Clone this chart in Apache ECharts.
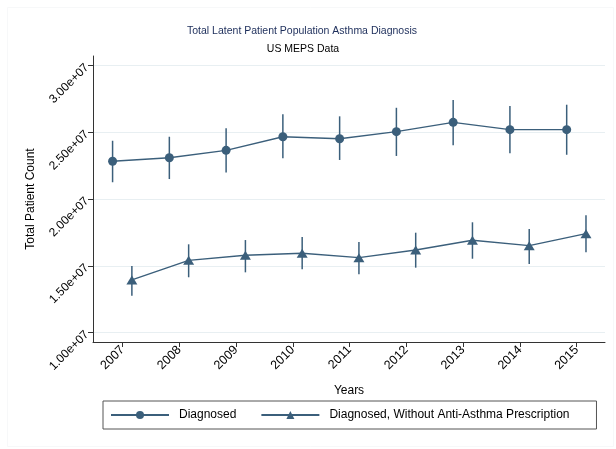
<!DOCTYPE html>
<html>
<head>
<meta charset="utf-8">
<script src="https://cdn.jsdelivr.net/npm/echarts@6/dist/echarts.min.js"></script>
<style>
  html, body { margin: 0; padding: 0; background: #fff; }
  #chart { width: 616px; height: 449px; }
</style>
</head>
<body>
<div id="chart"></div>
<script>
// Survey years
const years = [2007, 2008, 2009, 2010, 2011, 2012, 2013, 2014, 2015];

// Diagnosed: point estimate and 95% interval
const diagnosed      = [2.284e7, 2.311e7, 2.366e7, 2.468e7, 2.453e7, 2.506e7, 2.576e7, 2.521e7, 2.521e7];
const diagnosedLow   = [2.127e7, 2.151e7, 2.201e7, 2.306e7, 2.294e7, 2.324e7, 2.404e7, 2.344e7, 2.333e7];
const diagnosedHigh  = [2.438e7, 2.468e7, 2.531e7, 2.636e7, 2.621e7, 2.685e7, 2.743e7, 2.698e7, 2.708e7];

// Diagnosed, no anti-asthma prescription: point estimate and 95% interval
const noRx      = [1.395e7, 1.542e7, 1.580e7, 1.595e7, 1.562e7, 1.619e7, 1.692e7, 1.652e7, 1.742e7];
const noRxLow   = [1.277e7, 1.415e7, 1.452e7, 1.475e7, 1.437e7, 1.487e7, 1.554e7, 1.515e7, 1.602e7];
const noRxHigh  = [1.500e7, 1.662e7, 1.694e7, 1.717e7, 1.679e7, 1.749e7, 1.827e7, 1.777e7, 1.879e7];

// Y tick values
const yTicks = [1.0e7, 1.5e7, 2.0e7, 2.5e7, 3.0e7];

const seriesNames = ['Diagnosed', 'Diagnosed, Without Anti-Asthma Prescription'];

// horizontal dodge so the two groups sit side by side around each year
const dodgeA = -0.175;
const dodgeB = 0.165;

const color = '#3b5f7b';
const font = 'Liberation Sans, Arial, Helvetica, sans-serif';

function pts(vals, dodge) {
  return vals.map((v, i) => [years[i] + dodge, v]);
}
function bars(lo, hi, dodge) {
  return lo.map((v, i) => [years[i] + dodge, v, hi[i]]);
}
function errRender(params, api) {
  const p1 = api.coord([api.value(0), api.value(1)]);
  const p2 = api.coord([api.value(0), api.value(2)]);
  return {
    type: 'line',
    shape: { x1: p1[0], y1: p1[1], x2: p2[0], y2: p2[1] },
    style: { stroke: color, lineWidth: 1.5 }
  };
}

const chart = echarts.init(document.getElementById('chart'), null, { renderer: 'canvas' });

chart.setOption({
  backgroundColor: '#fff',
  animation: false,
  title: [
    {
      text: 'Total Latent Patient Population Asthma Diagnosis',
      left: 297, top: 21, textAlign: 'center',
      textStyle: { fontFamily: font, fontSize: 10.5, fontWeight: 'normal', color: '#1c2d5a' }
    },
    {
      text: 'US MEPS Data',
      left: 298, top: 39, textAlign: 'center',
      textStyle: { fontFamily: font, fontSize: 10.5, fontWeight: 'normal', color: '#000' }
    }
  ],
  graphic: [{
    type: 'rect', left: 5, top: 5,
    shape: { width: 606, height: 439 },
    style: { fill: 'none', stroke: '#f7f8f9', lineWidth: 1 },
    silent: true, z: -1
  }],
  grid: { left: 93, right: 11, top: 56, bottom: 107, containLabel: false },
  xAxis: {
    type: 'value',
    min: 2006.48, max: 2015.5,
    name: 'Years', nameLocation: 'middle', nameGap: 43,
    nameTextStyle: { fontFamily: font, fontSize: 12, color: '#000' },
    axisLine: { show: true, lineStyle: { color: '#333', width: 1 } },
    axisTick: { show: true, length: 5, customValues: years, lineStyle: { color: '#333' } },
    axisLabel: {
      customValues: years, rotate: 45, margin: 6,
      fontFamily: font, fontSize: 12.5, color: '#000',
      formatter: v => String(v)
    },
    splitLine: { show: false }
  },
  yAxis: {
    type: 'value',
    min: 0.93e7, max: 3.073e7,
    name: 'Total Patient Count', nameLocation: 'middle', nameGap: 56,
    nameTextStyle: { fontFamily: font, fontSize: 12, color: '#000' },
    axisLine: { show: true, lineStyle: { color: '#333', width: 1 } },
    axisTick: { show: true, length: 5, customValues: yTicks, lineStyle: { color: '#333' } },
    axisLabel: {
      customValues: yTicks, rotate: 45, margin: 6,
      fontFamily: font, fontSize: 12, color: '#000',
      formatter: v => (v / 1e7).toFixed(2) + 'e+07'
    },
    splitLine: { show: true, lineStyle: { color: '#e8eff2', width: 1 } }
  },
  legend: {
    data: seriesNames,
    left: 103, top: 401,
    orient: 'horizontal',
    itemWidth: 58, itemHeight: 10, itemGap: 24,
    padding: [8, 27, 8, 7],
    borderColor: '#555', borderWidth: 1,
    textStyle: { fontFamily: font, fontSize: 12, color: '#000', padding: [0, 0, 0, 5] }
  },
  series: [
    {
      name: seriesNames[0],
      type: 'line',
      data: pts(diagnosed, dodgeA),
      symbol: 'circle', symbolSize: 9,
      itemStyle: { color: color },
      lineStyle: { color: color, width: 1.4 },
      z: 3
    },
    {
      type: 'custom',
      renderItem: errRender,
      data: bars(diagnosedLow, diagnosedHigh, dodgeA),
      encode: { x: 0, y: [1, 2] },
      z: 2
    },
    {
      name: seriesNames[1],
      type: 'line',
      data: pts(noRx, dodgeB),
      symbol: 'triangle', symbolSize: [11, 9],
      itemStyle: { color: color },
      lineStyle: { color: color, width: 1.4 },
      z: 3
    },
    {
      type: 'custom',
      renderItem: errRender,
      data: bars(noRxLow, noRxHigh, dodgeB),
      encode: { x: 0, y: [1, 2] },
      z: 2
    }
  ]
});
</script>
</body>
</html>
